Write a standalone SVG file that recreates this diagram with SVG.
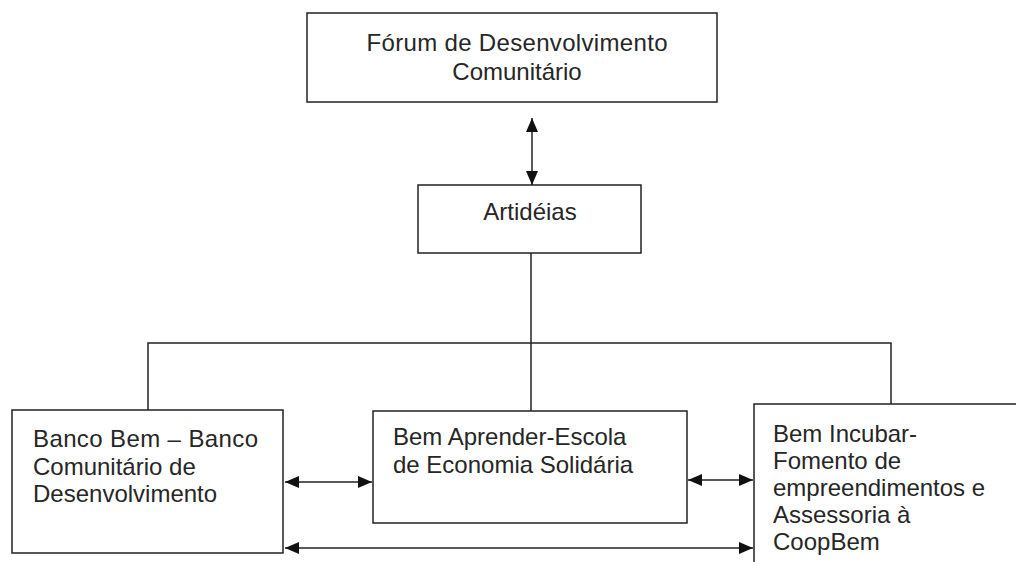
<svg xmlns="http://www.w3.org/2000/svg" width="1016" height="562" viewBox="0 0 1016 562">
<defs>
<style>
.box{fill:#fff;stroke:#222;stroke-width:1.5}
.ln{fill:none;stroke:#222;stroke-width:1.5}
text{font-family:"Liberation Sans",Arial,sans-serif;font-size:24px;fill:#262626}
</style>
<marker id="ah" viewBox="0 0 14 12" refX="14" refY="6" markerWidth="14" markerHeight="12" markerUnits="userSpaceOnUse" orient="auto-start-reverse">
<path d="M0,0 L14,6 L0,12 Z" fill="#111"/>
</marker>
</defs>
<rect width="1016" height="562" fill="#fff"/>
<g id="connectors">
<line class="ln" x1="532" y1="118" x2="532" y2="185" marker-start="url(#ah)" marker-end="url(#ah)"/>
<polyline class="ln" points="531,253 531,343"/>
<polyline class="ln" points="148,410 148,343 891,343 891,404"/>
<line class="ln" x1="531" y1="343" x2="531" y2="411"/>
<line class="ln" x1="285" y1="482" x2="372" y2="482" marker-start="url(#ah)" marker-end="url(#ah)"/>
<line class="ln" x1="688" y1="480" x2="753" y2="480" marker-start="url(#ah)" marker-end="url(#ah)"/>
<line class="ln" x1="285" y1="548" x2="753" y2="548" marker-start="url(#ah)" marker-end="url(#ah)"/>
</g>
<g id="forum">
<rect class="box" x="307" y="13" width="410" height="89"/>
<text x="517" y="51" text-anchor="middle" textLength="301">Fórum de Desenvolvimento</text>
<text x="517" y="80" text-anchor="middle">Comunitário</text>
</g>
<g id="artideias">
<rect class="box" x="418" y="185" width="223" height="68"/>
<text x="530" y="220" text-anchor="middle">Artidéias</text>
</g>
<g id="bancobem">
<rect class="box" x="12" y="410" width="271" height="143"/>
<text x="33" y="447" textLength="225">Banco Bem – Banco</text>
<text x="33" y="475">Comunitário de</text>
<text x="33" y="502">Desenvolvimento</text>
</g>
<g id="bemaprender">
<rect class="box" x="373" y="411" width="314" height="112"/>
<text x="393" y="445">Bem Aprender-Escola</text>
<text x="393" y="473">de Economia Solidária</text>
</g>
<g id="bemincubar">
<rect class="box" x="754" y="404" width="280" height="180"/>
<text x="773" y="442">Bem Incubar-</text>
<text x="773" y="469">Fomento de</text>
<text x="773" y="496">empreendimentos e</text>
<text x="773" y="523">Assessoria à</text>
<text x="773" y="550">CoopBem</text>
</g>
</svg>
